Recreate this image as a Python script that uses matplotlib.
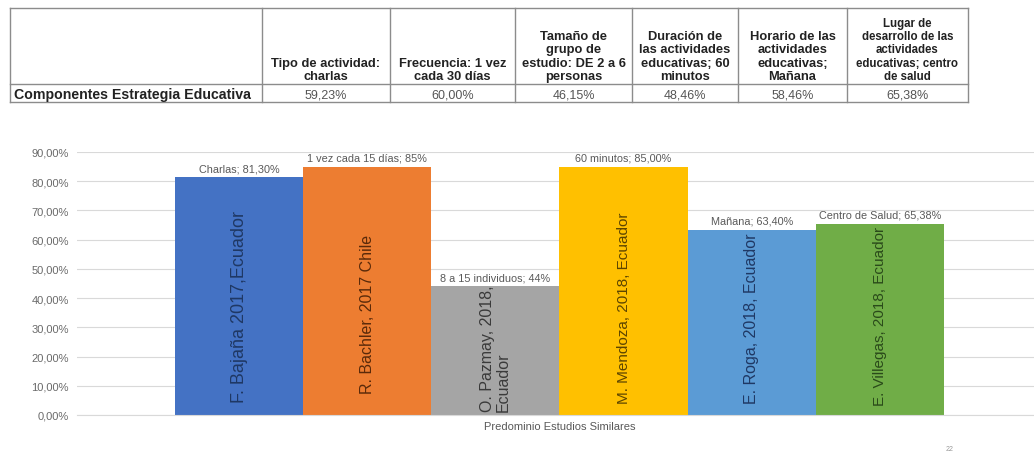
import matplotlib
matplotlib.use("Agg")
import matplotlib.pyplot as plt

plt.rcParams["font.family"] = ["Liberation Sans", "DejaVu Sans"]

# summary table above the chart
table_row_label = "Componentes Estrategia Educativa"
table_headers = [
    "Tipo de actividad:\ncharlas",
    "Frecuencia: 1 vez\ncada 30 días",
    "Tamaño de\ngrupo de\nestudio: DE 2 a 6\npersonas",
    "Duración de\nlas actividades\neducativas; 60\nminutos",
    "Horario de las\nactividades\neducativas;\nMañana",
    "Lugar de\ndesarrollo de las\nactividades\neducativas; centro\nde salud",
]
table_values = ["59,23%", "60,00%", "46,15%", "48,46%", "58,46%", "65,38%"]

# bar chart: similar studies
studies = [
    "F. Bajaña 2017,Ecuador",
    "R. Bachler, 2017 Chile",
    "O. Pazmay, 2018,\nEcuador",
    "M. Mendoza, 2018, Ecuador",
    "E. Roga, 2018, Ecuador",
    "E. Villegas, 2018, Ecuador",
]
findings = ["Charlas", "1 vez cada 15 días", "8 a 15 individuos", "60 minutos",
            "Mañana", "Centro de Salud"]
values = [81.30, 85, 44, 85.00, 63.40, 65.38]
decimals = [2, 0, 0, 2, 2, 2]
yticks = [0, 10, 20, 30, 40, 50, 60, 70, 80, 90]

bar_colors = ["#4472C4", "#ED7D31", "#A5A5A5", "#FFC000", "#5B9BD5", "#70AD47"]
text_colors = ["#1F3864", "#5A2A0A", "#3A3A3A", "#5C4500", "#1F3864", "#2A4A1A"]
text_sizes = [13, 11.5, 11.5, 11, 11.5, 11]
name_offsets = [4.5, 7.5, 1.2, 4.0, 4.0, 3.5]

W, H = 1034, 456
fig = plt.figure(figsize=(W / 100, H / 100), dpi=100)

# ---- table drawn in pixel coordinates ----
tab = fig.add_axes([0, 0, 1, 1])
tab.set_xlim(0, W)
tab.set_ylim(H, 0)
tab.axis("off")

col_edges = [10, 262, 390, 515, 632, 738, 847, 968]
top, mid, bottom = 9, 85, 103
line_kw = dict(color="#8c8c8c", lw=1.0)
tab.plot([col_edges[0], col_edges[-1]], [top, top], **line_kw)
tab.plot([col_edges[0], col_edges[-1]], [mid, mid], **line_kw)
tab.plot([col_edges[0], col_edges[-1]], [bottom, bottom], **line_kw)
for x in col_edges:
    tab.plot([x, x], [top, bottom], **line_kw)

for i, (head, val) in enumerate(zip(table_headers, table_values)):
    cx = (col_edges[i + 1] + col_edges[i + 2]) / 2
    fs = 8.3 if head.count("\n") > 3 else 9.3
    tab.text(cx, mid - 2, head, ha="center", va="bottom", multialignment="center",
             fontsize=fs, fontweight="bold", color="#222222", linespacing=1.15)
    tab.text(cx, (mid + bottom) / 2 + 1, val, ha="center", va="center",
             fontsize=9, color="#555555")
tab.text(col_edges[0] + 4, (mid + bottom) / 2 + 1, table_row_label, ha="left",
         va="center", fontsize=10.2, fontweight="bold", color="#222222")

# page marker
tab.text(950, 450, "22", ha="center", va="center", fontsize=5, color="#999999")

# ---- bar chart ----
x0, x1, ytop, ybot = 77, 1034, 153, 416
ax = fig.add_axes([x0 / W, (H - ybot) / H, (x1 - x0) / W, (ybot - ytop) / H])
ax.patch.set_alpha(0)

pos = list(range(len(values)))
bars = ax.bar(pos, values, width=1.0, color=bar_colors, zorder=2)

unit = 128.2
ax.set_xlim(-0.5 - (175 - x0) / unit, 5.5 + (x1 - 944) / unit)
ax.set_ylim(0, 90)
ax.set_yticks(yticks)
ax.set_yticklabels([f"{t:.2f}%".replace(".", ",") for t in yticks])
ax.tick_params(axis="y", length=0, pad=6, labelsize=8, labelcolor="#6a6a6a")
ax.set_xticks([])
ax.grid(axis="y", color="#d9d9d9", lw=0.8, zorder=0)
for s in ["top", "right", "left"]:
    ax.spines[s].set_visible(False)
ax.spines["bottom"].set_color("#d9d9d9")

for i, (b, v) in enumerate(zip(bars, values)):
    num = f"{v:.{decimals[i]}f}".replace(".", ",")
    ax.annotate(f"{findings[i]}; {num}%", (b.get_x() + 0.5, v),
                xytext=(0, 3), textcoords="offset points", ha="center",
                va="bottom", fontsize=7.8, color="#595959")
    # study name written upward from near the base of the bar
    ax.text(b.get_x() + 0.5, name_offsets[i], studies[i], rotation=90,
            ha="center", va="bottom", multialignment="left",
            fontsize=text_sizes[i], color=text_colors[i], zorder=3,
            linespacing=1.0)

ax.text(2.5, -3.8, "Predominio Estudios Similares", ha="center", va="center",
        fontsize=8, color="#595959")

fig.savefig("out.png", dpi=100)
